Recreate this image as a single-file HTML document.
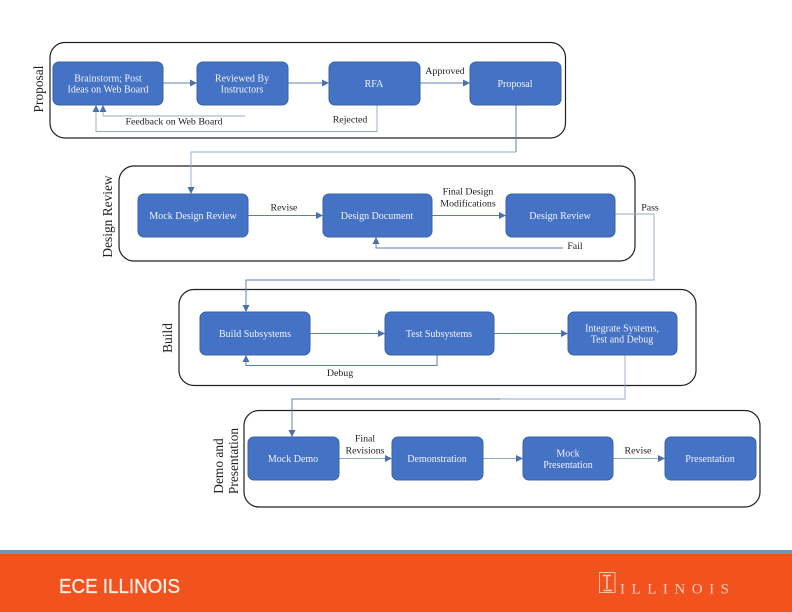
<!DOCTYPE html>
<html><head><meta charset="utf-8"><style>
html,body{margin:0;padding:0;background:#fff;width:792px;height:612px;overflow:hidden}
svg{display:block}
.c{fill:none;stroke:#222;stroke-width:1.2}
.b{fill:#4472c4;stroke:#3a62a8;stroke-width:1}
.w{fill:#f2f2f8;font:10px "Liberation Serif",serif;text-anchor:middle}
.k{fill:#222;font:9.9px "Liberation Serif",serif;text-anchor:middle}
.r{fill:#222;font:13.4px "Liberation Serif",serif;text-anchor:middle}
.l{fill:none;stroke:#5d7fb0;stroke-width:1}
.p{fill:none;stroke:#93a9c4;stroke-width:.9}
.a{fill:#4a70ad}
</style></head><body>
<svg width="792" height="612" viewBox="0 0 792 612" xmlns="http://www.w3.org/2000/svg">
<g style="filter:blur(.35px)">
<rect class="c" x="50" y="42.5" width="515.5" height="95.5" rx="15"/>
<rect class="c" x="119" y="166" width="516" height="95" rx="15"/>
<rect class="c" x="179" y="289.5" width="517" height="96" rx="15"/>
<rect class="c" x="244" y="410.5" width="516" height="96.5" rx="15"/>

<text transform="translate(43,89) rotate(-90)" class="r">Proposal</text>
<text transform="translate(112,216.5) rotate(-90)" class="r">Design Review</text>
<text transform="translate(172,338) rotate(-90)" class="r">Build</text>
<text transform="translate(223,466) rotate(-90)" class="r">Demo and</text>
<text transform="translate(238,461) rotate(-90)" class="r">Presentation</text>

<!-- connectors -->
<path class="l" d="M163 83H190M288 83H322M420 83H463"/>
<path class="p" d="M245 116H103V110"/>
<path class="p" d="M377 105V131.5H96V110"/>
<path class="l" d="M516 105V152"/>
<path class="p" d="M516 152H191V188"/>
<path class="l" d="M248 215.5H316M432 215.5H499"/>
<path class="l" d="M563 248H376V242"/>
<path class="p" d="M615 214H654V280H400"/>
<path class="l" d="M400 280H246V306"/>
<path class="l" d="M310 333.5H378M494 333.5H561"/>
<path class="l" d="M437 355V365.5H246V361"/>
<path class="p" d="M625 355V399H500"/>
<path class="l" d="M500 399H292V431"/>
<path class="p" d="M339 458.5H385M483 458.5H516M613 458.5H658"/>

<!-- arrowheads -->
<path class="a" d="M197 83l-7-3.5v7zM329 83l-7-3.5v7zM470 83l-7-3.5v7z"/>
<path class="a" d="M323 215.5l-7-3.5v7zM506 215.5l-7-3.5v7z"/>
<path class="a" d="M385 333.5l-7-3.5v7zM568 333.5l-7-3.5v7z"/>
<path class="a" d="M392 458.5l-7-3.5v7zM523 458.5l-7-3.5v7zM665 458.5l-7-3.5v7z"/>
<path class="a" d="M96 105l-3.5 7h7zM103 105l-3.5 7h7zM376 237l-3.5 7h7zM246 355l-3.5 7h7z"/>
<path class="a" d="M191 194l-3.5-7h7zM246 312l-3.5-7h7zM292 437l-3.5-7h7z"/>

<!-- boxes -->
<rect class="b" x="53" y="62" width="110" height="43" rx="6"/>
<rect class="b" x="197" y="62" width="91" height="43" rx="6"/>
<rect class="b" x="329" y="62" width="91" height="43" rx="6"/>
<rect class="b" x="470" y="62" width="91" height="43" rx="6"/>
<rect class="b" x="138" y="194" width="110" height="43" rx="6"/>
<rect class="b" x="323" y="194" width="109" height="43" rx="6"/>
<rect class="b" x="506" y="194" width="109" height="43" rx="6"/>
<rect class="b" x="200" y="312" width="110" height="43" rx="6"/>
<rect class="b" x="385" y="312" width="109" height="43" rx="6"/>
<rect class="b" x="568" y="312" width="109" height="43" rx="6"/>
<rect class="b" x="248" y="437" width="91" height="43" rx="6"/>
<rect class="b" x="392" y="437" width="91" height="43" rx="6"/>
<rect class="b" x="523" y="437" width="90" height="43" rx="6"/>
<rect class="b" x="665" y="437" width="91" height="43" rx="6"/>

<!-- box labels -->
<text class="w" x="108" y="81.5">Brainstorm; Post</text>
<text class="w" x="108" y="92.5">Ideas on Web Board</text>
<text class="w" x="242" y="81.5">Reviewed By</text>
<text class="w" x="242" y="92.5">Instructors</text>
<text class="w" x="374" y="87">RFA</text>
<text class="w" x="515" y="87">Proposal</text>
<text class="w" x="193" y="219">Mock Design Review</text>
<text class="w" x="377" y="219">Design Document</text>
<text class="w" x="560" y="219">Design Review</text>
<text class="w" x="255" y="337">Build Subsystems</text>
<text class="w" x="439" y="337">Test Subsystems</text>
<text class="w" x="622" y="331.5">Integrate Systems,</text>
<text class="w" x="622" y="342.5">Test and Debug</text>
<text class="w" x="293" y="462">Mock Demo</text>
<text class="w" x="437" y="462">Demonstration</text>
<text class="w" x="568" y="456.5">Mock</text>
<text class="w" x="568" y="468">Presentation</text>
<text class="w" x="710" y="462">Presentation</text>

<!-- connector labels -->
<text class="k" x="174" y="124.5">Feedback on Web Board</text>
<text class="k" x="350" y="122.5">Rejected</text>
<text class="k" x="445" y="74">Approved</text>
<text class="k" x="284" y="210.5">Revise</text>
<text class="k" x="468" y="194.5">Final Design</text>
<text class="k" x="468" y="206.5">Modifications</text>
<text class="k" x="575" y="249">Fail</text>
<text class="k" x="650" y="210.5">Pass</text>
<text class="k" x="340" y="376">Debug</text>
<text class="k" x="365" y="441.5">Final</text>
<text class="k" x="365" y="453.5">Revisions</text>
<text class="k" x="638" y="453.5">Revise</text>
</g>

<!-- footer -->
<rect x="0" y="550" width="792" height="4" fill="#6f97b8"/>
<rect x="0" y="554" width="792" height="58" fill="#f2521e"/>
<g style="filter:blur(.3px)">
<text x="59" y="593" font-family="Liberation Sans,sans-serif" font-size="20.5" fill="#fdf0e8" stroke="#fdf0e8" stroke-width=".35" textLength="121" lengthAdjust="spacingAndGlyphs">ECE ILLINOIS</text>
<rect x="599.5" y="572.5" width="15.5" height="20" fill="none" stroke="#f9c4ab" stroke-width="1"/>
<path d="M603 575.5H611M607 575.5V589M603.5 590.5H612" fill="none" stroke="#f9d6c4" stroke-width="1.4"/>
<text x="620" y="593.5" font-family="Liberation Serif,serif" font-size="15" fill="#f9cdb8" textLength="109" lengthAdjust="spacing">ILLINOIS</text>
</g>
</svg>
</body></html>
